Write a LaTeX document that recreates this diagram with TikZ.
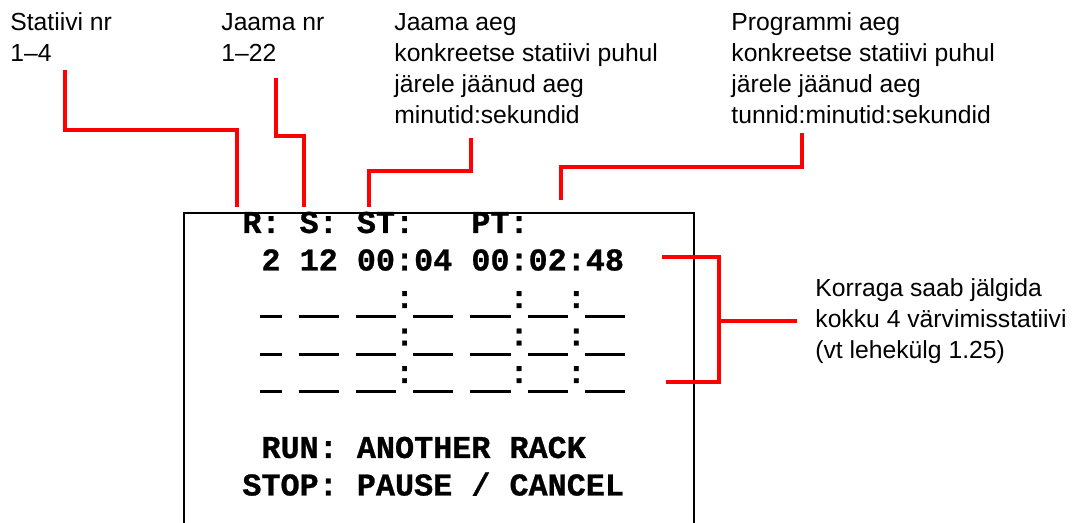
\documentclass[tikz,border=0pt]{standalone}
\usepackage{fontspec}
\setmainfont{Liberation Sans}
\newfontfamily\lcdfont{Liberation Mono}[BoldFeatures={FakeBold=0.8}]
% one empty display cell: a low, heavy underscore
\newcommand\lcdblank{\makebox[0.6em][c]{\rule[-5.1pt]{0.67em}{1.5pt}}}

\tikzset{
  note/.style={anchor=base west, inner sep=0pt, align=left,
    font=\fontsize{12.35}{15.5}\selectfont},
  lcd/.style={anchor=base west, inner sep=0pt,
    font=\lcdfont\bfseries\fontsize{15.9}{18}\selectfont},
  pointer/.style={red, line width=2pt},
}

\begin{document}
\begin{tikzpicture}[x=0.5pt, y=-0.5pt]
  \useasboundingbox (0,0) rectangle (1078,523);

  % explanations (placed at the baseline of their last line)
  \node[note] (rack)    at (10,62)   {Statiivi nr\\1–4};
  \node[note] (station) at (221,62)  {Jaama nr\\1–22};
  \node[note] (sttime)  at (394,124) {Jaama aeg\\konkreetse statiivi puhul\\järele jäänud aeg\\minutid:sekundid};
  \node[note] (pttime)  at (731,124) {Programmi aeg\\konkreetse statiivi puhul\\järele jäänud aeg\\tunnid:minutid:sekundid};
  \node[note] (racks)   at (815,358.5) {Korraga saab jälgida\\kokku 4 värvimisstatiivi\\(vt lehekülg 1.25)};

  % display
  \draw[line width=1pt] (184,523) -- (184,213) -- (694,213) -- (694,523);
  \node[lcd] (head)  at (242,233)   {R:~S:~ST:~~~PT:};
  \node[lcd] (row1)  at (242,270.5) {~2~12~00:04~00:02:48};
  \node[lcd] (row2)  at (242,308)   {~\lcdblank~\lcdblank\lcdblank~\lcdblank\lcdblank:\lcdblank\lcdblank~\lcdblank\lcdblank:\lcdblank\lcdblank:\lcdblank\lcdblank};
  \node[lcd] (row3)  at (242,345.5) {~\lcdblank~\lcdblank\lcdblank~\lcdblank\lcdblank:\lcdblank\lcdblank~\lcdblank\lcdblank:\lcdblank\lcdblank:\lcdblank\lcdblank};
  \node[lcd] (row4)  at (242,383)   {~\lcdblank~\lcdblank\lcdblank~\lcdblank\lcdblank:\lcdblank\lcdblank~\lcdblank\lcdblank:\lcdblank\lcdblank:\lcdblank\lcdblank};
  \node[lcd] (run)   at (242,458)   {~RUN:~ANOTHER~RACK};
  \node[lcd] (stop)  at (242,495.5) {STOP:~PAUSE~/~CANCEL};

  % pointers
  \coordinate (rack-tail)    at (65,70);
  \coordinate (rack-tip)     at (237,207);
  \coordinate (station-tail) at (276,78);
  \coordinate (station-tip)  at (304,207);
  \coordinate (sttime-tail)  at (471,138);
  \coordinate (sttime-tip)   at (369,207);
  \coordinate (pttime-tail)  at (802,133);
  \coordinate (pttime-tip)   at (561,200);
  \draw[pointer] (rack-tail) -- ++(0,60) -| (rack-tip);
  \draw[pointer] (station-tail) -- ++(0,58) -| (station-tip);
  \draw[pointer] (sttime-tail) -- ++(0,33) -| (sttime-tip);
  \draw[pointer] (pttime-tail) -- ++(0,34) -| (pttime-tip);

  % bracket over the rows
  \coordinate (brace-top) at (662,257);
  \coordinate (brace-bot) at (666,382);
  \coordinate (brace-mid) at (719,321);
  \coordinate (brace-end) at (797,321);
  \draw[pointer] (brace-top) -| (brace-mid |- brace-bot) -- (brace-bot);
  \draw[pointer] (brace-mid) -- (brace-end);
\end{tikzpicture}
\end{document}
